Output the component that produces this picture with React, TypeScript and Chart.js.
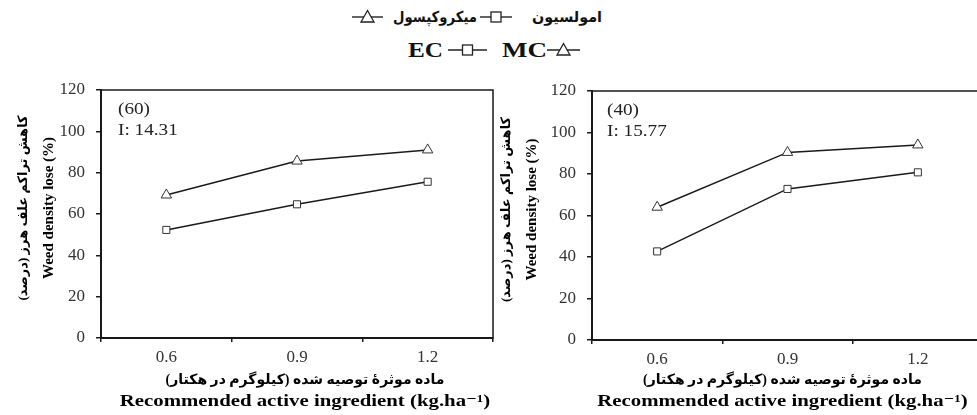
import React, { useEffect, useLayoutEffect, useRef } from "react";
import { Chart, registerables } from "chart.js";

Chart.register(...registerables);

// ---- data ----
const categories = ["0.6", "0.9", "1.2"];
const ecLeft = [52.3, 64.7, 75.6];
const mcLeft = [69.2, 85.6, 91.0];
const ecRight = [42.7, 72.8, 80.8];
const mcRight = [64.0, 90.4, 94.0];
const yTickValues = [0, 20, 40, 60, 80, 100, 120];
const leftNote = ["(60)", "I: 14.31"];
const rightNote = ["(40)", "I: 15.77"];
const seriesNames = ["EC", "MC"];
const seriesNamesFa = ["امولسیون", "میکروکپسول"];
const yTitle = ["کاهش تراکم علف هرز (درصد)", "Weed density lose (%)"];
const xTitle = ["ماده موثرۀ توصیه شده (کیلوگرم در هکتار)", "Recommended active ingredient (kg.ha⁻¹)"];

const SERIF = "'Liberation Serif', 'Times New Roman', 'DejaVu Sans', serif";
const INK = "#1a1a1a";

const decorPlugin = {
  id: "decor",
  beforeDatasetsDraw(chart: any, _args: any, opts: any) {
    const { ctx, chartArea } = chart;
    ctx.save();
    // plot frame
    ctx.strokeStyle = INK;
    ctx.lineWidth = 1.5;
    ctx.strokeRect(chartArea.left, chartArea.top, chartArea.right - chartArea.left, chartArea.bottom - chartArea.top);
    // note inside the plot
    ctx.fillStyle = "#222";
    ctx.font = `16px ${SERIF}`;
    ctx.textBaseline = "middle";
    ctx.textAlign = "left";
    const lines: string[] = opts.note || [];
    lines.forEach((t, i) => {
      ctx.save();
      ctx.translate(chartArea.left + (opts.noteDx ?? 17), chartArea.top + 20 + i * 21);
      ctx.scale(1.2, 1);
      ctx.fillText(t, 0, 0);
      ctx.restore();
    });
    ctx.restore();
  },
  afterDraw(chart: any, _args: any, opts: any) {
    const { ctx, chartArea, height } = chart;
    ctx.save();
    ctx.fillStyle = "#000";
    ctx.textBaseline = "middle";
    ctx.textAlign = "center";
    // x-axis title (two lines)
    const cx = (chartArea.left + chartArea.right) / 2 + (opts.xTitleDx ?? 0);
    ctx.save();
    ctx.translate(cx, height - 35);
    ctx.direction = "rtl";
    ctx.font = `bold 14px ${SERIF}`;
    ctx.fillText(opts.xTitle[0], 0, 0);
    ctx.restore();
    ctx.save();
    ctx.translate(cx, height - 13);
    ctx.scale(1.3, 1);
    ctx.font = `bold 16px ${SERIF}`;
    ctx.fillText(opts.xTitle[1], 0, 0);
    ctx.restore();
    // y-axis title (two rotated lines)
    const cy = (chartArea.top + chartArea.bottom) / 2 - 6;
    ctx.save();
    ctx.translate(24, cy);
    ctx.rotate(-Math.PI / 2);
    ctx.direction = "rtl";
    ctx.font = `bold 13px ${SERIF}`;
    ctx.fillText(opts.yTitle[0], 0, 0);
    ctx.restore();
    ctx.save();
    ctx.translate(49, cy);
    ctx.rotate(-Math.PI / 2);
    ctx.font = `bold 15px ${SERIF}`;
    ctx.fillText(opts.yTitle[1], 0, 0);
    ctx.restore();
    ctx.restore();
  },
};

function makeConfig(ec: number[], mc: number[], note: string[], o: any) {
  const tickFont = { family: SERIF, size: 17 };
  return {
    type: "line",
    data: {
      labels: categories,
      datasets: [
        {
          label: seriesNames[0],
          data: ec,
          borderColor: INK,
          borderWidth: 1.5,
          pointStyle: "rect",
          pointRadius: 5,
          pointBackgroundColor: "#fff",
          pointBorderColor: "#333",
          pointBorderWidth: 1,
          tension: 0,
        },
        {
          label: seriesNames[1],
          data: mc,
          borderColor: INK,
          borderWidth: 1.5,
          pointStyle: "triangle",
          pointRadius: 6,
          pointBackgroundColor: "#fff",
          pointBorderColor: "#333",
          pointBorderWidth: 1,
          tension: 0,
        },
      ],
    },
    options: {
      animation: false,
      responsive: false,
      maintainAspectRatio: false,
      layout: { padding: { top: o.padTop, right: o.padRight, bottom: 0, left: 0 } },
      plugins: {
        legend: { display: false },
        tooltip: { enabled: false },
        decor: { note, noteDx: o.noteDx, xTitle, yTitle, xTitleDx: o.xTitleDx },
      },
      scales: {
        x: {
          type: "category",
          offset: true,
          grid: { offset: true, drawOnChartArea: false, tickLength: 4, color: INK, lineWidth: 1.5 },
          border: { color: INK, width: 2 },
          ticks: { font: tickFont, color: "#333", padding: 5, maxRotation: 0 },
          title: { display: false, text: xTitle },
          afterFit(s: any) {
            s.height = o.xHeight;
          },
        },
        y: {
          min: 0,
          max: 120,
          afterBuildTicks(s: any) {
            s.ticks = yTickValues.map((v) => ({ value: v }));
          },
          grid: { drawOnChartArea: false, tickLength: 5, color: INK, lineWidth: 1.5 },
          border: { color: INK, width: 2 },
          ticks: { font: tickFont, color: "#333", padding: 11 },
          title: { display: false, text: yTitle },
          afterFit(s: any) {
            s.width = o.yWidth;
            s.paddingTop = 0;
            s.paddingBottom = 0;
          },
        },
      },
    },
    plugins: [decorPlugin],
  } as any;
}

function ChartCanvas(props: { ec: number[]; mc: number[]; note: string[]; o: any; left: number; top: number; width: number; height: number }) {
  const ref = useRef<HTMLCanvasElement | null>(null);
  useEffect(() => {
    if (!ref.current) return;
    const chart = new Chart(ref.current, makeConfig(props.ec, props.mc, props.note, props.o));
    return () => chart.destroy();
  }, []);
  return (
    <canvas
      ref={ref}
      width={props.width}
      height={props.height}
      style={{ position: "absolute", left: props.left, top: props.top, width: props.width, height: props.height }}
    />
  );
}

function Marker({ shape, left, cy, w }: { shape: "rect" | "triangle"; left: number; cy: number; w: number }) {
  return (
    <svg width={w} height={16} style={{ position: "absolute", left, top: cy - 8, display: "block" }}>
      <line x1={0} y1={8} x2={w} y2={8} stroke="#222" strokeWidth={1.4} />
      {shape === "rect" ? (
        <rect x={w / 2 - 5} y={3} width={10} height={10} fill="#fff" stroke="#222" strokeWidth={1.3} />
      ) : (
        <polygon points={`${w / 2},1.5 ${w / 2 + 6.5},13 ${w / 2 - 6.5},13`} fill="#fff" stroke="#222" strokeWidth={1.3} />
      )}
    </svg>
  );
}

function Fit({ left, cy, width, size, rtl, children }: { left: number; cy: number; width: number; size: number; rtl?: boolean; children: any }) {
  const ref = useRef<HTMLSpanElement | null>(null);
  useLayoutEffect(() => {
    const el = ref.current;
    if (!el) return;
    el.style.transform = "none";
    const w = el.getBoundingClientRect().width;
    if (w > 0) el.style.transform = `scaleX(${width / w})`;
  }, []);
  return (
    <div
      style={{
        position: "absolute",
        left,
        top: cy - 15,
        height: 30,
        display: "flex",
        alignItems: "center",
        whiteSpace: "nowrap",
        fontFamily: SERIF,
        fontWeight: "bold",
        fontSize: size,
        color: "#111",
        lineHeight: 1,
      }}
    >
      <span ref={ref} dir={rtl ? "rtl" : "ltr"} style={{ display: "inline-block", transformOrigin: "left center" }}>
        {children}
      </span>
    </div>
  );
}

export default function App() {
  return (
    <div
      style={{
        position: "absolute",
        left: 0,
        top: 0,
        width: 977,
        height: 415,
        overflow: "hidden",
        background: "#fff",
      }}
    >
      {/* legend line 1 (Persian) */}
      <Marker shape="triangle" left={352} cy={17} w={31} />
      <Fit left={393} cy={17} width={84} size={15} rtl>{seriesNamesFa[1]}</Fit>
      <Marker shape="rect" left={480} cy={17} w={32} />
      <Fit left={532} cy={17} width={70} size={15} rtl>{seriesNamesFa[0]}</Fit>
      {/* legend line 2 (English) */}
      <Fit left={408} cy={50} width={35} size={22}>{seriesNames[0]}</Fit>
      <Marker shape="rect" left={448} cy={50} w={39} />
      <Fit left={502} cy={50} width={45} size={22}>{seriesNames[1]}</Fit>
      <Marker shape="triangle" left={547} cy={50} w={33} />

      <ChartCanvas
        ec={ecLeft}
        mc={mcLeft}
        note={leftNote}
        left={0}
        top={80}
        width={500}
        height={335}
        o={{ padTop: 10, padRight: 0, xHeight: 77, yWidth: 101, noteDx: 17, xTitleDx: 8 }}
      />
      <ChartCanvas
        ec={ecRight}
        mc={mcRight}
        note={rightNote}
        left={483}
        top={80}
        width={507}
        height={335}
        o={{ padTop: 11, padRight: 0, xHeight: 75, yWidth: 109, noteDx: 15, xTitleDx: -5 }}
      />
    </div>
  );
}
